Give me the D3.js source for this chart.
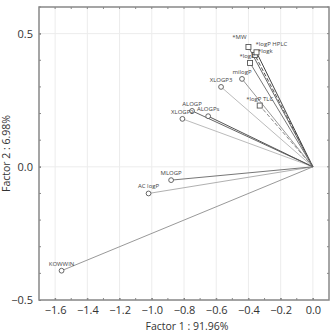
<!DOCTYPE html>
<html>
<head>
<meta charset="utf-8">
<script src="https://cdn.jsdelivr.net/npm/d3@7"></script>
<style>
  body { margin: 0; background: #fff; }
  text { font-family: "Open Sans", "Liberation Sans", sans-serif; }
</style>
</head>
<body>
<div id="chart"></div>
<script>
// variables (loadings) - names starting with * are experimental (square markers)
const names = ["KOWWIN", "AC logP", "MLOGP", "XLOGP2", "ALOGP", "ALOGPs", "XLOGP3", "milogP", "*logP TLC", "*logP", "*logk", "*logP HPLC", "*MW"];
const factor1 = [-1.56, -1.02, -0.88, -0.81, -0.75, -0.65, -0.57, -0.44, -0.33, -0.39, -0.36, -0.35, -0.40];
const factor2 = [-0.39, -0.10, -0.05, 0.18, 0.21, 0.19, 0.30, 0.33, 0.23, 0.39, 0.42, 0.43, 0.45];
const xTicks = [-1.6, -1.4, -1.2, -1.0, -0.8, -0.6, -0.4, -0.2, 0.0];
const yTicks = [-0.5, 0.0, 0.5];

// line styles per variable
const lineStroke = {
  "KOWWIN": "#999", "AC logP": "#b0b0b0", "MLOGP": "#777", "XLOGP2": "#bbb",
  "ALOGP": "#666", "ALOGPs": "#555", "XLOGP3": "#bbb", "milogP": "#999",
  "*logP TLC": "#888", "*logP": "#777", "*logk": "#555", "*logP HPLC": "#444", "*MW": "#666"
};
const dashed = { "*logP TLC": true, "*logk": true };
// [dx, dy, anchor] label placement tweaks for the crowded cluster
const labelShift = { "*logP": [-3, 0, "middle"], "*logk": [3, 3, "start"], "*logP HPLC": [-1, -1, "start"], "*MW": [-2, -3, "end"] };

const width = 334, height = 333;
const margin = { top: 7, right: 5, bottom: 33, left: 39 };

const svg = d3.select("#chart").append("svg")
  .attr("width", width)
  .attr("height", height);

const x = d3.scaleLinear().domain([-1.7, 0.1]).range([margin.left, width - margin.right]);
const y = d3.scaleLinear().domain([-0.5, 0.6]).range([height - margin.bottom, margin.top]);

// grid
svg.append("g").selectAll("line.gx").data(xTicks).enter().append("line")
  .attr("x1", d => x(d)).attr("x2", d => x(d))
  .attr("y1", margin.top).attr("y2", height - margin.bottom)
  .attr("stroke", "#ececec").attr("stroke-width", 1);
svg.append("g").selectAll("line.gy").data(yTicks).enter().append("line")
  .attr("x1", margin.left).attr("x2", width - margin.right)
  .attr("y1", d => y(d)).attr("y2", d => y(d))
  .attr("stroke", "#ececec").attr("stroke-width", 1);

// axes (ticks inward)
const xMinor = d3.range(-1.6, 0.05, 0.1);
const yMinor = d3.range(-0.4, 0.65, 0.1);

const xAxis = svg.append("g")
  .attr("transform", `translate(0,${height - margin.bottom})`)
  .call(d3.axisBottom(x).tickValues(xTicks).tickSize(-2).tickPadding(6).tickFormat(d3.format(".1f")));
const yAxis = svg.append("g")
  .attr("transform", `translate(${margin.left},0)`)
  .call(d3.axisLeft(y).tickValues(yTicks).tickSize(-2).tickPadding(6).tickFormat(d3.format(".1f")));
[xAxis, yAxis].forEach(a => {
  a.select(".domain").remove();
  a.selectAll(".tick line").attr("stroke", "#777");
  a.selectAll(".tick text").attr("fill", "#333").style("font-size", "11px").text(function(d) { return d3.format(".1f")(d).replace("-", "\u2212"); });
});

// minor ticks on all four sides
const ticks = svg.append("g").attr("stroke", "#888").attr("stroke-width", 1);
xMinor.forEach(v => {
  ticks.append("line").attr("x1", x(v)).attr("x2", x(v)).attr("y1", y(-0.5)).attr("y2", y(-0.5) - 2);
  ticks.append("line").attr("x1", x(v)).attr("x2", x(v)).attr("y1", y(0.6)).attr("y2", y(0.6) + 2);
});
yMinor.forEach(v => {
  ticks.append("line").attr("x1", x(-1.7)).attr("x2", x(-1.7) + 2).attr("y1", y(v)).attr("y2", y(v));
  ticks.append("line").attr("x1", x(0.1)).attr("x2", x(0.1) - 2).attr("y1", y(v)).attr("y2", y(v));
});

// frame
svg.append("rect")
  .attr("x", margin.left).attr("y", margin.top)
  .attr("width", width - margin.left - margin.right)
  .attr("height", height - margin.top - margin.bottom)
  .attr("fill", "none").attr("stroke", "#888").attr("stroke-width", 1.5);

// vectors
const idx = d3.range(names.length);
svg.append("g").selectAll("line").data(idx).enter().append("line")
  .attr("x1", x(0)).attr("y1", y(0))
  .attr("x2", i => x(factor1[i])).attr("y2", i => y(factor2[i]))
  .attr("stroke", i => lineStroke[names[i]])
  .attr("stroke-width", 1)
  .attr("stroke-dasharray", i => dashed[names[i]] ? "4,2" : null);

// markers
const marks = svg.append("g");
idx.forEach(i => {
  const cx = x(factor1[i]), cy = y(factor2[i]);
  if (names[i].startsWith("*")) {
    marks.append("rect").attr("x", cx - 2.5).attr("y", cy - 2.5).attr("width", 5).attr("height", 5)
      .attr("fill", "#fff").attr("stroke", "#555").attr("stroke-width", 0.9);
  } else {
    marks.append("circle").attr("cx", cx).attr("cy", cy).attr("r", 2.4)
      .attr("fill", "#fff").attr("stroke", "#555").attr("stroke-width", 0.9);
  }
});

// labels
svg.append("g").selectAll("text").data(idx).enter().append("text")
  .attr("x", i => x(factor1[i]) + (labelShift[names[i]] ? labelShift[names[i]][0] : 0))
  .attr("y", i => y(factor2[i]) - 5 + (labelShift[names[i]] ? labelShift[names[i]][1] : 0))
  .attr("text-anchor", i => labelShift[names[i]] ? labelShift[names[i]][2] : "middle")
  .attr("fill", "#444")
  .style("font-size", "6px")
  .text(i => names[i]);

// axis titles
svg.append("text")
  .attr("x", (margin.left + width - margin.right) / 2 + 3).attr("y", height - 3)
  .attr("text-anchor", "middle").attr("fill", "#333").style("font-size", "10.5px")
  .text("Factor 1 : 91.96%");
svg.append("text")
  .attr("transform", `translate(10,${(margin.top + height - margin.bottom) / 2}) rotate(-90)`)
  .attr("text-anchor", "middle").attr("fill", "#333").style("font-size", "10.5px")
  .text("Factor 2 : 6.98%");
</script>
</body>
</html>
